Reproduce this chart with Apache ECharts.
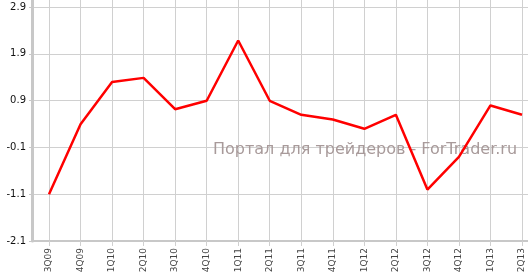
<!DOCTYPE html>
<html>
<head>
<meta charset="utf-8">
<script src="https://cdn.jsdelivr.net/npm/echarts@6/dist/echarts.min.js"></script>
<style>html,body{margin:0;padding:0;background:#fff;}#c{width:528px;height:277px;}</style>
</head>
<body>
<div id="c"></div>
<script>
const categories = ['3Q09','4Q09','1Q10','2Q10','3Q10','4Q10','1Q11','2Q11','3Q11','4Q11','1Q12','2Q12','3Q12','4Q12','1Q13','2Q13'];
const values = [-1.1, 0.4, 1.3, 1.39, 0.72, 0.9, 2.19, 0.9, 0.6, 0.5, 0.3, 0.6, -1.0, -0.3, 0.8, 0.6];
const yTickMin = -2.1;
const yTickMax = 2.9;
const yTickStep = 1;
const watermark = 'Портал для трейдеров - ForTrader.ru';

const font = 'DejaVu Sans';
const gridColor = '#d0d0d0';
const axisColor = '#c8c8c8';
const chart = echarts.init(document.getElementById('c'), null, {renderer: 'canvas'});
chart.setOption({
  animation: false,
  backgroundColor: '#fff',
  grid: [
    {left: 32, right: 0, top: 7, bottom: 36},
    {left: 49, right: 6, top: 0, bottom: 36}
  ],
  xAxis: [
    {gridIndex: 0, type: 'value', min: 0, max: 1, position: 'bottom',
     axisLine: {show: true, onZero: false, lineStyle: {color: axisColor, width: 2}},
     axisTick: {show: false}, axisLabel: {show: false}, splitLine: {show: false}},
    {gridIndex: 1, type: 'category', data: categories, boundaryGap: false, position: 'bottom',
     axisLine: {show: false, onZero: false},
     axisTick: {show: true, length: 5, lineStyle: {color: gridColor}},
     splitLine: {show: true, lineStyle: {color: gridColor, width: 1}},
     axisLabel: {rotate: 90, fontFamily: font, fontSize: 9, color: '#444', margin: 7, interval: 0}}
  ],
  yAxis: [
    {gridIndex: 0, type: 'value', min: yTickMin, max: yTickMax, interval: yTickStep, position: 'left',
     axisLine: {show: false, onZero: false},
     axisTick: {show: true, length: 3, lineStyle: {color: axisColor}},
     splitLine: {show: true, lineStyle: {color: gridColor, width: 1}},
     axisLabel: {fontFamily: font, fontSize: 10, color: '#111', margin: 6,
                 formatter: v => v.toFixed(1)}},
    {gridIndex: 1, type: 'value', min: yTickMin, max: 3.056, offset: 17, position: 'left',
     axisLine: {show: true, onZero: false, lineStyle: {color: axisColor, width: 3}},
     axisTick: {show: false}, axisLabel: {show: false}, splitLine: {show: false}}
  ],
  graphic: [{
    type: 'text', left: 213, top: 142, z: 1, silent: true,
    style: {text: watermark, font: '16px "DejaVu Sans"', fill: '#a89a9a'}
  }],
  series: [{
    type: 'line', xAxisIndex: 1, yAxisIndex: 1, data: values,
    showSymbol: false, symbol: 'none', z: 5,
    lineStyle: {color: '#ff0000', width: 2.5}
  }]
});
</script>
</body>
</html>
